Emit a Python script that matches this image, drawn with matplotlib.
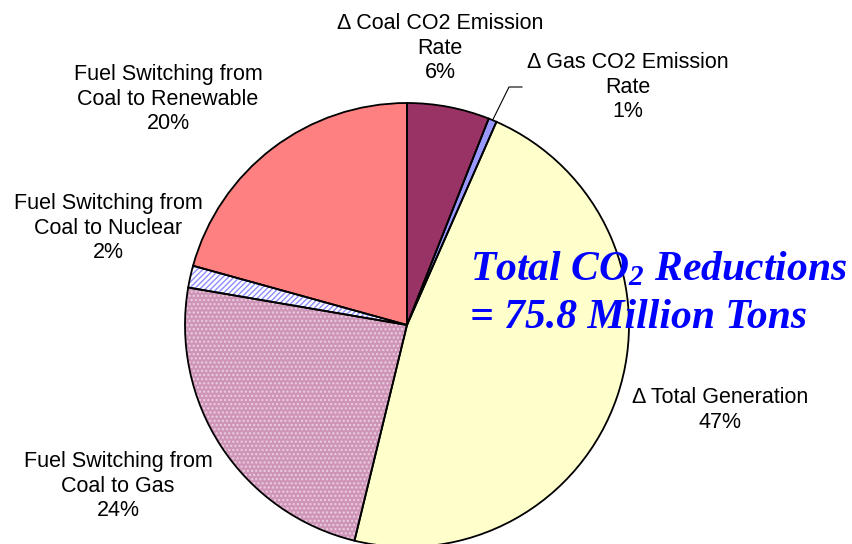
import matplotlib.pyplot as plt
import numpy as np

plt.rcParams["font.family"] = ["Liberation Sans", "DejaVu Sans"]
plt.rcParams["mathtext.fontset"] = "custom"
plt.rcParams["mathtext.rm"] = "Liberation Serif:bold:italic"
plt.rcParams["mathtext.it"] = "Liberation Serif:bold:italic"

# slices, clockwise from 12 o'clock
labels = [
    "\u0394 Coal CO2 Emission\nRate",
    "\u0394 Gas CO2 Emission\nRate",
    "\u0394 Total Generation",
    "Fuel Switching from\nCoal to Gas",
    "Fuel Switching from\nCoal to Nuclear",
    "Fuel Switching from\nCoal to Renewable",
]
shares = [6.0, 0.6, 47.2, 23.9, 1.6, 20.7]
pct_text = ["6%", "1%", "47%", "24%", "2%", "20%"]

colors = ["#993366", "#9999FF", "#FFFFCC", "#CF95B8", "#FFFFFF", "#FF8080"]
hatches = [None, None, None, "....", "//////", None]
hatch_colors = ["none", "none", "none", "#EBD0E0", "#8C8CFF", "none"]

# label centres in pixel coordinates (x, y from top)
label_pos = [(440, 48), (628, 87), (720, 410), (118, 486), (108, 228), (168, 99)]

W, H = 853, 544
cx, cy, r = 407, H - 325, 222

fig = plt.figure(figsize=(W / 100, H / 100), dpi=100)
ax = fig.add_axes([0, 0, 1, 1])

# fill + hatch layer
wedges, _ = ax.pie(
    shares, colors=colors, startangle=90, counterclock=False,
    center=(cx, cy), radius=r, frame=True,
    wedgeprops=dict(linewidth=0),
)
for w, h, hc in zip(wedges, hatches, hatch_colors):
    if h:
        w.set_hatch(h)
        w.set_edgecolor(hc)
        w.set_linewidth(0)

# outline layer
ax.pie(
    shares, colors=["none"] * len(shares), startangle=90, counterclock=False,
    center=(cx, cy), radius=r, frame=True,
    wedgeprops=dict(linewidth=1.3, edgecolor="black", facecolor="none"),
)
ax.set_xlim(0, W)
ax.set_ylim(0, H)
ax.set_aspect("equal")
ax.axis("off")

for lab, pct, (x, y) in zip(labels, pct_text, label_pos):
    ax.text(x, H - y, lab + "\n" + pct, ha="center", va="center",
            fontsize=15.5, linespacing=1.2, color="black")

# leader line for the small gas slice
w = wedges[1]
mid = np.deg2rad((w.theta1 + w.theta2) / 2)
px, py = cx + r * np.cos(mid), cy + r * np.sin(mid)
ax.plot([px, 509, 522], [py, H - 87, H - 87], color="black", lw=0.8)

big = dict(ha="left", va="center", fontsize=30, color="#0000FF",
           family="Liberation Serif", weight="bold", style="italic")
ax.text(470, H - 270, r"Total CO$_2$ Reductions", **big)
ax.text(470, H - 318, "= 75.8 Million Tons", **big)

fig.savefig("out.png", dpi=100)
